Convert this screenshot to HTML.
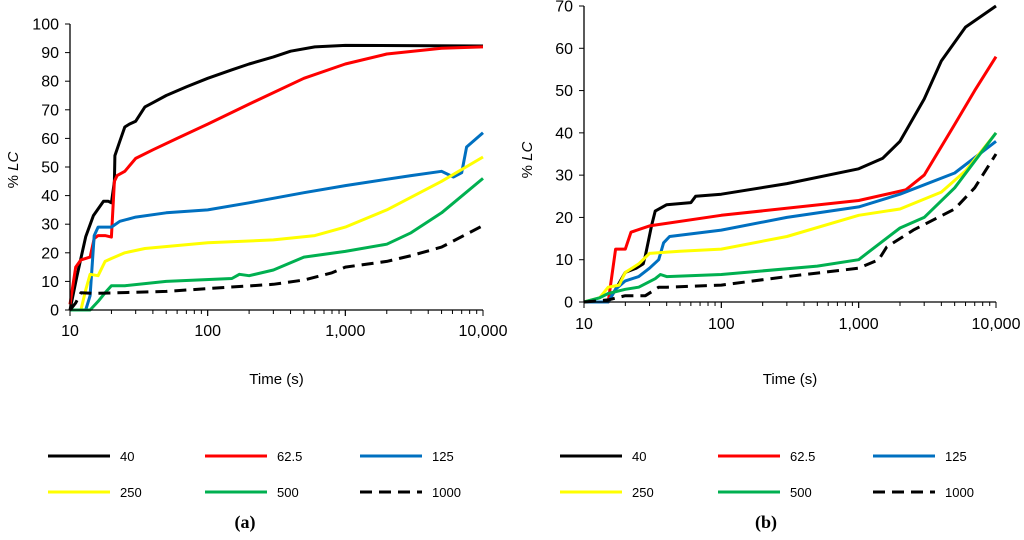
<!DOCTYPE html>
<html><head><meta charset="utf-8"><style>
body{margin:0;background:#fff;}
svg{display:block;font-family:"Liberation Sans",Arial,sans-serif;}
</style></head><body>
<svg id="c" width="1024" height="540" viewBox="0 0 1024 540"></svg>
<script>
const xTicks=[10,100,1000,10000];
const xTickLabels=["10","100","1,000","10,000"];
const yTicksA=[0,10,20,30,40,50,60,70,80,90,100];
const yTicksB=[0,10,20,30,40,50,60,70];
const seriesNames=["40","62.5","125","250","500","1000"];
const seriesColors=["#000","#ff0000","#0070c0","#ffff00","#00b050","#000"];
// panel a
const a40=[[10,0],[11.2,11.6],[13,25.6],[14.8,33],[17.5,38],[19,38],[20,37.5],[21,45],[21.2,54],[23,59],[25,64],[27,65],[30,66],[35,71],[40,72.5],[50,75],[70,78],[100,81],[150,84],[200,86],[300,88.5],[400,90.5],[600,92],[1000,92.5],[10000,92.3]];
const a62=[[10,2],[11,15],[12,17.5],[14,18.5],[15,25],[16,26],[18,26],[20,25.5],[21,45],[22,47],[25,48.5],[30,53],[40,56],[60,60],[100,65],[200,72],[500,81],[1000,86],[2000,89.5],[5000,91.5],[10000,92]];
const a125=[[10,0],[13,0],[14,5],[15,26],[16,29],[20,29],[23,31],[30,32.5],[50,34],[100,35],[200,37.5],[500,41],[1000,43.5],[3000,47],[5000,48.5],[6100,46.5],[7000,48],[7600,57],[10000,62]];
const a250=[[10,0],[12,0],[13,7],[14,12.5],[16,12],[18,17],[20,18],[25,20],[35,21.5],[100,23.5],[300,24.5],[600,26],[1000,29],[2000,35],[5000,45],[10000,53.5]];
const a500=[[10,0],[14,0],[16,3],[18,6],[20,8.5],[25,8.5],[50,10],[150,11],[170,12.5],[200,12],[300,14],[500,18.5],[1000,20.5],[2000,23],[3000,27],[5000,34],[10000,46]];
const a1000=[[10,0],[11,2.5],[12,6],[15,5.8],[50,6.5],[100,7.5],[300,9],[500,10.5],[800,13],[1000,15],[2000,17],[3000,19],[5000,22],[10000,29.5]];
// panel b
const b40=[[10,0],[15,0],[17,3],[20,7],[24,8],[27,9],[28,11],[31,18],[33,21.5],[40,23],[60,23.5],[65,25],[100,25.5],[300,28],[1000,31.5],[1500,34],[2000,38],[3000,48],[4000,57],[6000,65],[10000,70]];
const b62=[[10,0],[15,0],[17,12.5],[20,12.5],[22,16.5],[30,18],[100,20.5],[1000,24],[2200,26.5],[3000,30],[5000,42],[7000,50],[10000,58]];
const b125=[[10,0],[15,0],[17,3],[20,5],[25,6],[30,8],[35,10],[38,14],[42,15.5],[100,17],[300,20],[1000,22.5],[2000,25.5],[5000,30.5],[10000,38]];
const b250=[[10,0],[13,1],[15,3.5],[18,4],[20,7],[25,9],[30,11.5],[50,12],[100,12.5],[300,15.5],[1000,20.5],[2000,22],[4000,26],[6000,31],[10000,40]];
const b500=[[10,0],[13,1],[15,2],[20,3],[25,3.5],[33,5.5],[36,6.5],[40,6],[100,6.5],[500,8.5],[1000,10],[1200,12],[2000,17.5],[3000,20],[5000,27],[10000,40]];
const b1000=[[10,0],[15,0.5],[20,1.5],[28,1.5],[35,3.5],[40,3.5],[100,4],[300,6],[1000,8],[1400,10],[1600,13],[2500,17],[5000,22],[7000,27],[10000,35]];

const NS="http://www.w3.org/2000/svg";
const svg=document.getElementById('c');
function el(tag,attrs,parent){const e=document.createElementNS(NS,tag);for(const k in attrs)e.setAttribute(k,attrs[k]);(parent||svg).appendChild(e);return e;}

function panel(id,x0,x1,y0,y1,ymax,yTicks,data,tag,xlOff){
  const g=el('g',{});
  
  
  const X=t=>x0+(Math.log10(t)-1)/3*(x1-x0);
  const Y=v=>y0-(v/ymax)*(y0-y1);
  data.forEach((s,i)=>{
    const p=el('polyline',{points:s.map(d=>X(d[0]).toFixed(1)+','+Y(d[1]).toFixed(1)).join(' '),fill:'none',stroke:seriesColors[i],'stroke-width':3,'stroke-linejoin':'round'},g);
    if(i===5)p.setAttribute('stroke-dasharray','12,7');
    
    
  });
  const ax=el('path',{d:`M${x0},${y1}V${y0}H${x1}`,stroke:'#000','stroke-width':1.3,fill:'none'},g);
  
  
  yTicks.forEach(v=>{
    el('line',{x1:x0-5,x2:x0,y1:Y(v),y2:Y(v),stroke:'#000'},g);
    const t=el('text',{x:x0-11,y:Y(v)+5.5,'text-anchor':'end','font-size':16},g);
    t.textContent=v;
    
    
  });
  for(let d=1;d<=3;d++)for(let m=1;m<=10;m++){
    const t=Math.pow(10,d)*m;if(t>10000)break;
    el('line',{x1:X(t),x2:X(t),y1:y0,y2:y0+(m===1||m===10?6:4),stroke:'#000'},g);
  }
  xTicks.forEach((t,i)=>{
    const tx=el('text',{x:X(t),y:y0+xlOff,'text-anchor':'middle','font-size':16},g);
    tx.textContent=xTickLabels[i];
    
    
  });
  const xt=el('text',{x:(x0+x1)/2,y:384,'text-anchor':'middle','font-size':15},g);
  xt.textContent='Time (s)';
  
  
  const yx=x0-52, yy=(tag==='a'?170:160);
  const yt=el('text',{x:yx,y:yy,'text-anchor':'middle','font-size':15,transform:`rotate(-90 ${yx} ${yy})`},g);
  yt.innerHTML='% <tspan font-style="italic">LC</tspan>';
  
  
}
panel('a',70,483,310,24,100,yTicksA,[a40,a62,a125,a250,a500,a1000],'a',26);
panel('b',584,996,302,6,70,yTicksB,[b40,b62,b125,b250,b500,b1000],'b',27);

function legend(xs,tag){
  const g=el('g',{});
  
  
  seriesNames.forEach((n,i)=>{
    const x=xs[i%3], y=i<3?456:492;
    const l=el('line',{x1:x,x2:x+62,y1:y,y2:y,stroke:seriesColors[i],'stroke-width':3},g);
    if(i===5)l.setAttribute('stroke-dasharray','12,7');
    const t=el('text',{x:x+72,y:y+5,'font-size':13},g);
    t.textContent=n;
    
    
  });
}
legend([48,205,360],'a');
legend([560,718,873],'b');
[['(a)',245],['(b)',766]].forEach(p=>{
  const t=el('text',{x:p[1],y:528,'text-anchor':'middle','font-size':18,'font-weight':'bold','font-family':'"Liberation Serif",serif'});
  t.textContent=p[0];
  
  
});
</script>
</body></html>
